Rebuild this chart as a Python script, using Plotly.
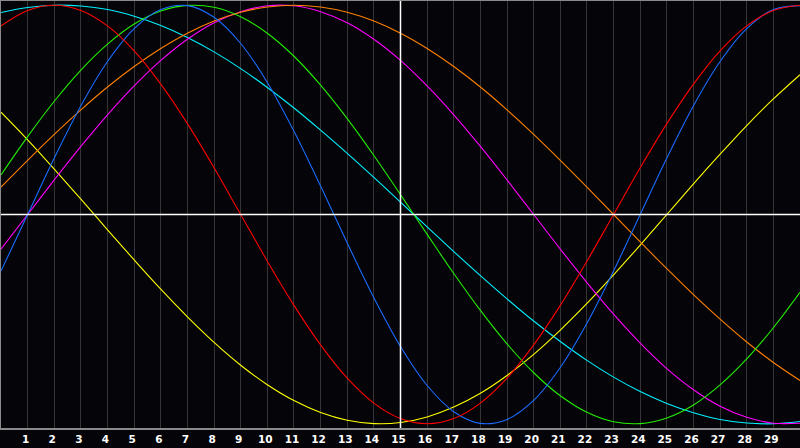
import plotly.graph_objects as go

days = list(range(0, 31))
tick_days = list(range(1, 30))
tick_labels = [str(d) for d in tick_days]
today = 15

physical = [-0.270, 0.0, 0.270, 0.520, 0.731, 0.888, 0.979, 0.998, 0.942, 0.817, 0.631,
            0.398, 0.136, -0.136, -0.398, -0.631, -0.817, -0.942, -0.998, -0.979, -0.888,
            -0.731, -0.520, -0.270, 0.0, 0.270, 0.520, 0.731, 0.888, 0.979, 0.998]
emotional = [0.901, 0.975, 1.0, 0.975, 0.901, 0.782, 0.623, 0.434, 0.223, 0.0, -0.223,
             -0.434, -0.623, -0.782, -0.901, -0.975, -1.0, -0.975, -0.901, -0.782, -0.623,
             -0.434, -0.223, 0.0, 0.223, 0.434, 0.623, 0.782, 0.901, 0.975, 1.0]
intellectual = [0.189, 0.372, 0.541, 0.690, 0.814, 0.910, 0.972, 0.999, 0.990, 0.945, 0.866,
                0.756, 0.618, 0.458, 0.282, 0.095, -0.095, -0.282, -0.458, -0.618, -0.756,
                -0.866, -0.945, -0.990, -0.999, -0.972, -0.910, -0.814, -0.690, -0.541, -0.372]
intuitive = [-0.165, 0.0, 0.165, 0.325, 0.476, 0.614, 0.736, 0.837, 0.916, 0.969, 0.997,
             0.997, 0.969, 0.916, 0.837, 0.736, 0.614, 0.476, 0.325, 0.165, 0.0,
             -0.165, -0.325, -0.476, -0.614, -0.736, -0.837, -0.916, -0.969, -0.997, -0.997]
aesthetic = [0.489, 0.357, 0.217, 0.073, -0.073, -0.217, -0.357, -0.489, -0.611, -0.720, -0.813,
             -0.889, -0.946, -0.983, -0.999, -0.994, -0.967, -0.920, -0.854, -0.769, -0.668,
             -0.552, -0.425, -0.288, -0.146, 0.0, 0.146, 0.288, 0.425, 0.552, 0.668]
awareness = [0.131, 0.259, 0.383, 0.5, 0.609, 0.707, 0.793, 0.866, 0.924, 0.966, 0.991,
             1.0, 0.991, 0.966, 0.924, 0.866, 0.793, 0.707, 0.609, 0.5, 0.383,
             0.259, 0.131, 0.0, -0.131, -0.259, -0.383, -0.5, -0.609, -0.707, -0.793]
spiritual = [0.965, 0.989, 1.0, 0.996, 0.979, 0.947, 0.903, 0.846, 0.777, 0.697, 0.607,
             0.509, 0.403, 0.292, 0.177, 0.059, -0.059, -0.177, -0.292, -0.403, -0.509,
             -0.607, -0.697, -0.777, -0.846, -0.903, -0.947, -0.979, -0.996, -1.0, -0.989]

cycles = [
    ('Spiritual', spiritual, '#00f0ff'),
    ('Aesthetic', aesthetic, '#ffff00'),
    ('Intuitive', intuitive, '#ff00ff'),
    ('Awareness', awareness, '#ff8000'),
    ('Intellectual', intellectual, '#22ee00'),
    ('Physical', physical, '#1a6cff'),
    ('Emotional', emotional, '#ff0000'),
]

fig = go.Figure()
for name, values, color in cycles:
    fig.add_trace(go.Scatter(
        x=days, y=values, mode='lines', name=name,
        line=dict(color=color, width=1.1, shape='spline', smoothing=1.0),
        hoverinfo='x+y+name'
    ))

# today marker and zero line
fig.add_shape(type='line', x0=today, x1=today, y0=0, y1=1, xref='x', yref='paper',
              line=dict(color='white', width=1.5))
fig.add_shape(type='line', x0=0, x1=1, y0=0, y1=0, xref='paper', yref='y',
              line=dict(color='white', width=1.5))

fig.update_layout(
    width=800, height=448,
    margin=dict(l=1, r=0, t=1, b=20),
    paper_bgcolor='#050408',
    plot_bgcolor='#050408',
    showlegend=False,
    xaxis=dict(range=[0, 30], tickvals=tick_days, ticktext=tick_labels,
               showgrid=True, gridcolor='#353535', gridwidth=1,
               zeroline=False, showline=True, linecolor='#8a8a8a', linewidth=2,
               mirror=True, ticks='', ticklen=0, ticklabelshift=-2,
               tickfont=dict(family='DejaVu Sans', size=10.5, color='white', weight='bold')),
    yaxis=dict(range=[-1.02, 1.02], showgrid=False, zeroline=False,
               showticklabels=False, showline=True, linecolor='#8a8a8a', linewidth=2,
               mirror=False),
)

# the page body has a default 8px margin; drop it so the chart fills the window
fig.write_html("out.html", config={'displayModeBar': False},
               post_script="document.body.style.margin='0';document.body.style.background='#050408';")
